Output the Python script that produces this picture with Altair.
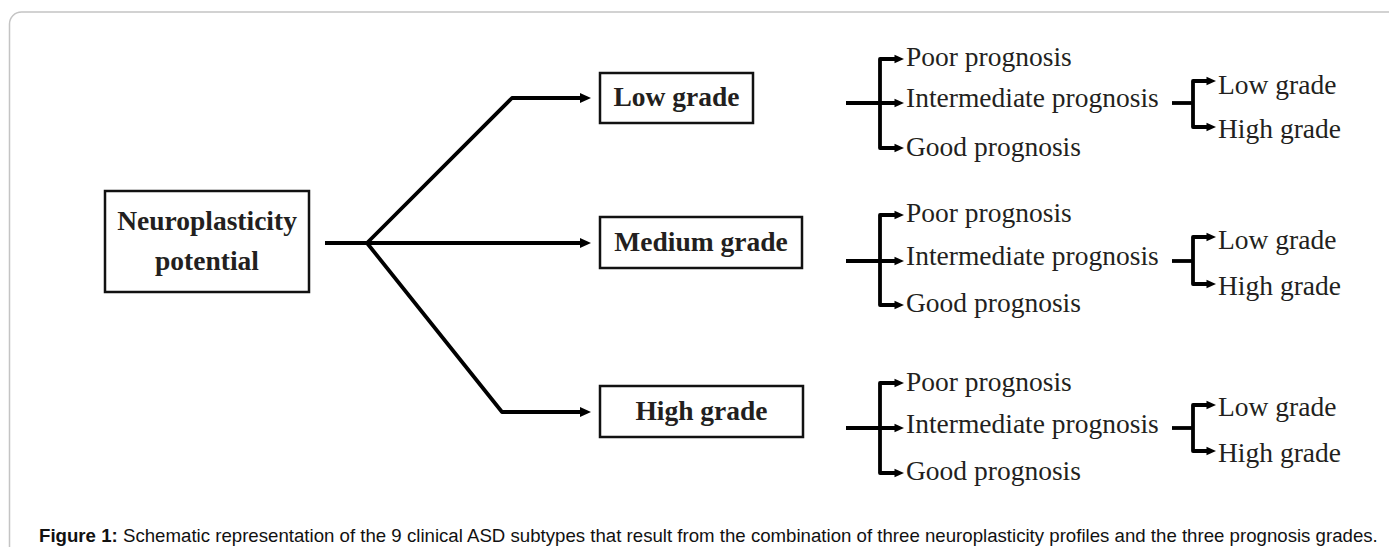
import altair as alt
import pandas as pd

W, H = 1381, 539

# ---------------- data (page-pixel coordinates) -------------
root_lines = ["Neuroplasticity", "potential"]
root_box = [105, 309, 191, 292]          # x, x2, y, y2
root_text_x = 207
root_text_y = [222, 262]

grade_labels = ["Low grade", "Medium grade", "High grade"]
grade_box_x = [600, 600, 600]
grade_box_x2 = [753, 802, 803]
grade_box_y = [73, 217, 386]
grade_box_y2 = [123, 268, 437]
grade_text_y = [98, 243, 412]

trunk_x = [325, 367]
trunk_y = 243
elbow_x = [512, 367, 502]
elbow_y = [98, 243, 412]
grade_arrow_tip = 591

prog_labels = ["Poor prognosis", "Intermediate prognosis", "Good prognosis"]
stub1_x = [846, 880]
prog_tip_x = 904
prog_text_x = 906
stub_y = [103, 261, 428]
prog_arrow_y = [[59, 103, 148], [215, 261, 305], [383, 428, 473]]
prog_text_y = [[58, 99, 148], [214, 257, 304], [383, 425, 472]]

sub_labels = ["Low grade", "High grade"]
stub2_x = [1172, 1193]
sub_tip_x = 1216
sub_text_x = 1218
sub_arrow_y = [[81, 127], [237, 284], [405, 451]]
sub_text_y = [[86, 130], [241, 287], [408, 454]]

caption_bold = "Figure 1:"
caption_rest = ("Schematic representation of the 9 clinical ASD subtypes that result from the "
                "combination of three neuroplasticity profiles and the three prognosis grades.")
caption_x = [39, 123]
caption_y = 536

frame = [9.5, 1450, 12, 600]

# ---------------- build tables ----------------
BIG, SMALL = 11, 9.5   # arrowhead lengths

paths = []
def add_path(pid, pts, w):
    for i, (x, y) in enumerate(pts):
        paths.append(dict(pid=pid, seq=i, x=x, y=y, w=w))

add_path("trunk", [(trunk_x[0], trunk_y), (trunk_x[1], trunk_y)], "big")
for g in range(3):
    add_path(f"b{g}", [(trunk_x[1], trunk_y), (elbow_x[g], elbow_y[g]),
                       (grade_arrow_tip - BIG + 1, elbow_y[g])], "big")
arrows = []
for g in range(3):
    arrows.append(dict(x=grade_arrow_tip - BIG / 2, y=elbow_y[g], k="big"))
    py = prog_arrow_y[g]
    add_path(f"s1_{g}", [(stub1_x[0], stub_y[g]), (prog_tip_x - SMALL + 1, py[1])], "small")
    add_path(f"k1_{g}", [(prog_tip_x - SMALL + 1, py[0]), (stub1_x[1], py[0]),
                         (stub1_x[1], py[2]), (prog_tip_x - SMALL + 1, py[2])], "small")
    for yy in py:
        arrows.append(dict(x=prog_tip_x - SMALL / 2, y=yy, k="small"))
    sy = sub_arrow_y[g]
    add_path(f"s2_{g}", [(stub2_x[0], stub_y[g]), (stub2_x[1], stub_y[g])], "small")
    add_path(f"k2_{g}", [(sub_tip_x - SMALL + 1, sy[0]), (stub2_x[1], sy[0]),
                         (stub2_x[1], sy[1]), (sub_tip_x - SMALL + 1, sy[1])], "small")
    for yy in sy:
        arrows.append(dict(x=sub_tip_x - SMALL / 2, y=yy, k="small"))

paths_df = pd.DataFrame(paths)
arrows_df = pd.DataFrame(arrows)

boxes_df = pd.DataFrame(
    [dict(x=root_box[0], x2=root_box[1], y=root_box[2], y2=root_box[3])] +
    [dict(x=grade_box_x[i], x2=grade_box_x2[i], y=grade_box_y[i], y2=grade_box_y2[i]) for i in range(3)]
)

bold_df = pd.DataFrame(
    [dict(x=root_text_x, y=root_text_y[i], t=root_lines[i]) for i in range(2)] +
    [dict(x=(grade_box_x[i] + grade_box_x2[i]) / 2, y=grade_text_y[i], t=grade_labels[i]) for i in range(3)]
)

reg = []
for g in range(3):
    for j in range(3):
        reg.append(dict(x=prog_text_x, y=prog_text_y[g][j], t=prog_labels[j]))
    for j in range(2):
        reg.append(dict(x=sub_text_x, y=sub_text_y[g][j], t=sub_labels[j]))
reg_df = pd.DataFrame(reg)

frame_df = pd.DataFrame([dict(x=frame[0], x2=frame[1], y=frame[2], y2=frame[3])])
cap_b_df = pd.DataFrame([dict(x=caption_x[0], y=caption_y, t=caption_bold)])
cap_r_df = pd.DataFrame([dict(x=caption_x[1], y=caption_y, t=caption_rest)])

# ---------------- scales ----------------
xs = alt.Scale(domain=[8, 8 + W], nice=False, zero=False)
ys = alt.Scale(domain=[8, 8 + H], nice=False, zero=False, reverse=True)
X = lambda f="x": alt.X(f"{f}:Q", scale=xs, axis=None)
Y = lambda f="y": alt.Y(f"{f}:Q", scale=ys, axis=None)

frame_l = alt.Chart(frame_df).mark_rect(
    fillOpacity=0, stroke="#c4c4c4", strokeWidth=1.5, cornerRadius=12
).encode(x=X(), x2="x2", y=Y(), y2="y2")

lines_l = alt.Chart(paths_df).mark_line(
    color="black", strokeWidth=3.8, strokeJoin="round", strokeCap="butt"
).encode(x=X(), y=Y(), detail="pid:N", order="seq:Q")

arrow_shape = "M-1,-0.9L1,0L-1,0.9Z"
big_arr = alt.Chart(arrows_df[arrows_df.k == "big"]).mark_point(
    shape=arrow_shape, filled=True, color="black", opacity=1, size=BIG * BIG
).encode(x=X(), y=Y())
small_arr = alt.Chart(arrows_df[arrows_df.k == "small"]).mark_point(
    shape=arrow_shape, filled=True, color="black", opacity=1, size=SMALL * SMALL
).encode(x=X(), y=Y())

boxes_l = alt.Chart(boxes_df).mark_rect(
    fill="white", stroke="#111111", strokeWidth=2.5
).encode(x=X(), x2="x2", y=Y(), y2="y2")

bold_l = alt.Chart(bold_df).mark_text(
    font="Liberation Serif", fontSize=27.5, fontWeight="bold", color="#231f20",
    align="center", baseline="middle"
).encode(x=X(), y=Y(), text="t:N")

reg_l = alt.Chart(reg_df).mark_text(
    font="Liberation Serif", fontSize=27.5, color="#231f20",
    align="left", baseline="middle"
).encode(x=X(), y=Y(), text="t:N")

cap_b = alt.Chart(cap_b_df).mark_text(
    font="Liberation Sans", fontSize=18.65, fontWeight="bold", color="#111111",
    align="left", baseline="middle"
).encode(x=X(), y=Y(), text="t:N")
cap_r = alt.Chart(cap_r_df).mark_text(
    font="Liberation Sans", fontSize=18.65, color="#111111",
    align="left", baseline="middle"
).encode(x=X(), y=Y(), text="t:N")

chart = alt.layer(
    frame_l, lines_l, big_arr, small_arr, boxes_l, bold_l, reg_l, cap_b, cap_r
).properties(
    width=W, height=H, padding=0, autosize=alt.AutoSizeParams(type="none")
).configure_view(stroke=None)

chart.save("out.html", embed_options={"renderer": "svg", "actions": False})
